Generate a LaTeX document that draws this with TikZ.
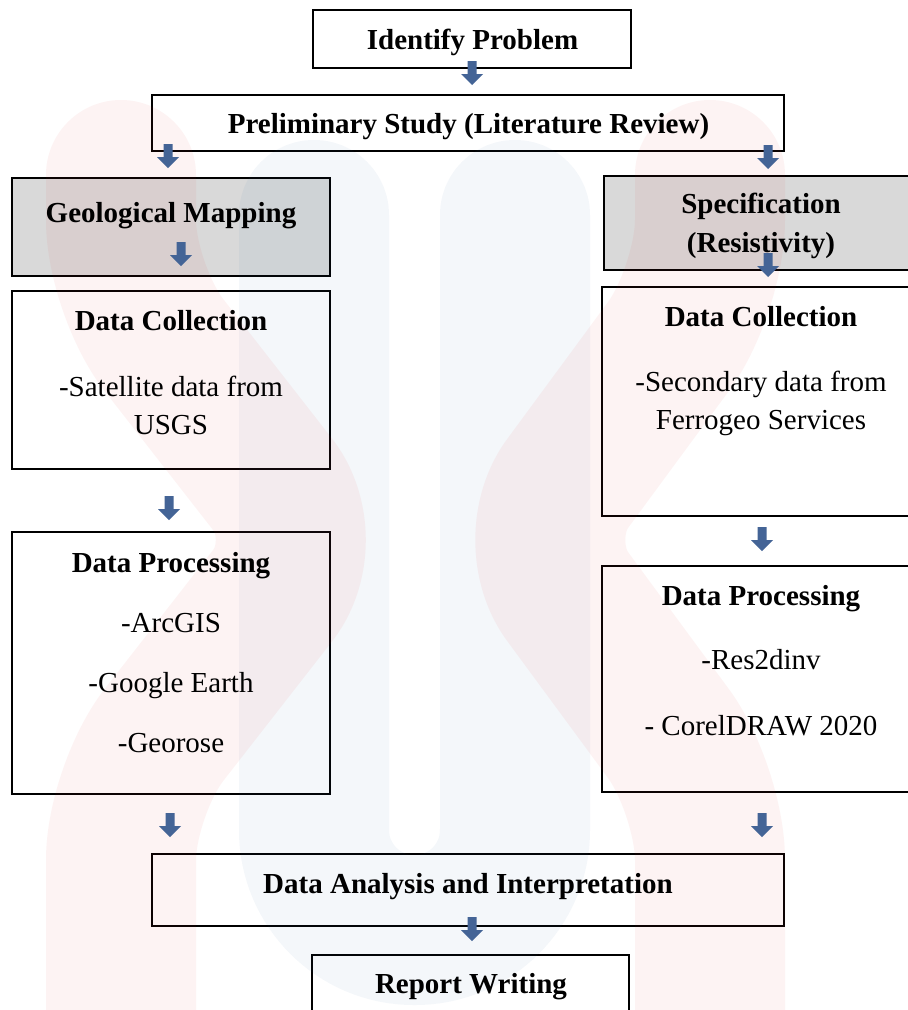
\documentclass[tikz,border=0pt]{standalone}
\usepackage{fontspec}
\setmainfont{Liberation Serif}
\usepackage{tikz}

\definecolor{arrowblue}{RGB}{68,100,150}
\definecolor{markpink}{RGB}{230,40,40}
\definecolor{markblue}{RGB}{40,100,160}

\begin{document}
\begin{tikzpicture}[x=1pt,y=-1pt,
	box/.style={shape=rectangle,draw=black,line width=1.6pt,inner sep=0pt},
	graybox/.style={box,fill=black!15},
	title/.style={anchor=base,font=\fontsize{29}{35}\selectfont\bfseries},
	item/.style={anchor=base,font=\fontsize{29}{35}\selectfont},
	darrow/.pic={\fill[arrowblue] (-4.5,0) -- (4.5,0) -- (4.5,13) -- (11,13) -- (0,24) -- (-11,13) -- (-4.5,13) -- cycle;}]
	\useasboundingbox (0,0) rectangle (908,1010);
	\clip (0,0) rectangle (908,1010);
	\fill[white] (0,0) rectangle (908,1010);

	\node[box,minimum width=318,minimum height=58]     (idp)  at (472,39)      {};
	\node[box,minimum width=632,minimum height=56]     (pre)  at (468,123)     {};
	\node[graybox,minimum width=318,minimum height=98] (geo)  at (171,227)     {};
	\node[graybox,minimum width=314,minimum height=94] (spec) at (761,223)     {};
	\node[box,minimum width=318,minimum height=178]    (dcl)  at (171,380)     {};
	\node[box,minimum width=318,minimum height=229]    (dcr)  at (761,401.5)   {};
	\node[box,minimum width=318,minimum height=262]    (dpl)  at (171,663)     {};
	\node[box,minimum width=318,minimum height=226]    (dpr)  at (761,679)     {};
	\node[box,minimum width=632,minimum height=72]     (ana)  at (468,890)     {};
	\node[box,minimum width=317,minimum height=75]     (rep)  at (470.5,992.5) {};

	\draw[markblue,draw opacity=0.05,line width=150pt,line cap=round,rounded corners=100pt]
		(314,215) -- (314,930) -- (515,930) -- (515,215);
	\draw[markpink,draw opacity=0.055,line width=150pt,line cap=round,line join=round,rounded corners=70pt]
		(121,175) -- (121,290) -- (316,540) -- (121,790) -- (121,1100);
	\draw[markpink,draw opacity=0.055,line width=150pt,line cap=round,line join=round,rounded corners=70pt]
		(710,175) -- (710,290) -- (526,540) -- (710,790) -- (710,1100);

	\node[title] (tidp)  at (472.5,49) {Identify Problem};
	\node[title] (tpre)  at (468.5,133) {Preliminary Study (Literature Review)};
	\node[title] (tgeo)  at (171,222) {Geological Mapping};
	\node[title] (tspa)  at (761,213) {Specification};
	\node[title] (tspb)  at (761,252) {(Resistivity)};
	\node[title] (tdcl)  at (171,330) {Data Collection};
	\node[item]  (idcl1) at (171,396) {-Satellite data from};
	\node[item]  (idcl2) at (171,434) {USGS};
	\node[title] (tdcr)  at (761,326) {Data Collection};
	\node[item]  (idcr1) at (761,391) {-Secondary data from};
	\node[item]  (idcr2) at (761,429) {Ferrogeo Services};
	\node[title] (tdpl)  at (171,572) {Data Processing};
	\node[item]  (idpl1) at (171,632) {-ArcGIS};
	\node[item]  (idpl2) at (171,692) {-Google Earth};
	\node[item]  (idpl3) at (171,752) {-Georose};
	\node[title] (tdpr)  at (761,605) {Data Processing};
	\node[item]  (idpr1) at (761,669) {-Res2dinv};
	\node[item]  (idpr2) at (761,735) {- CorelDRAW 2020};
	\node[title] (tana)  at (468,893) {Data Analysis and Interpretation};
	\node[title] (trep)  at (471,993) {Report Writing};

	\pic at (472,61)  {darrow};
	\pic at (168,144) {darrow};
	\pic at (768,145) {darrow};
	\pic at (181,242) {darrow};
	\pic at (768,253) {darrow};
	\pic at (169,496) {darrow};
	\pic at (762,527) {darrow};
	\pic at (170,813) {darrow};
	\pic at (762,813) {darrow};
	\pic at (472,917) {darrow};

\end{tikzpicture}
\end{document}
